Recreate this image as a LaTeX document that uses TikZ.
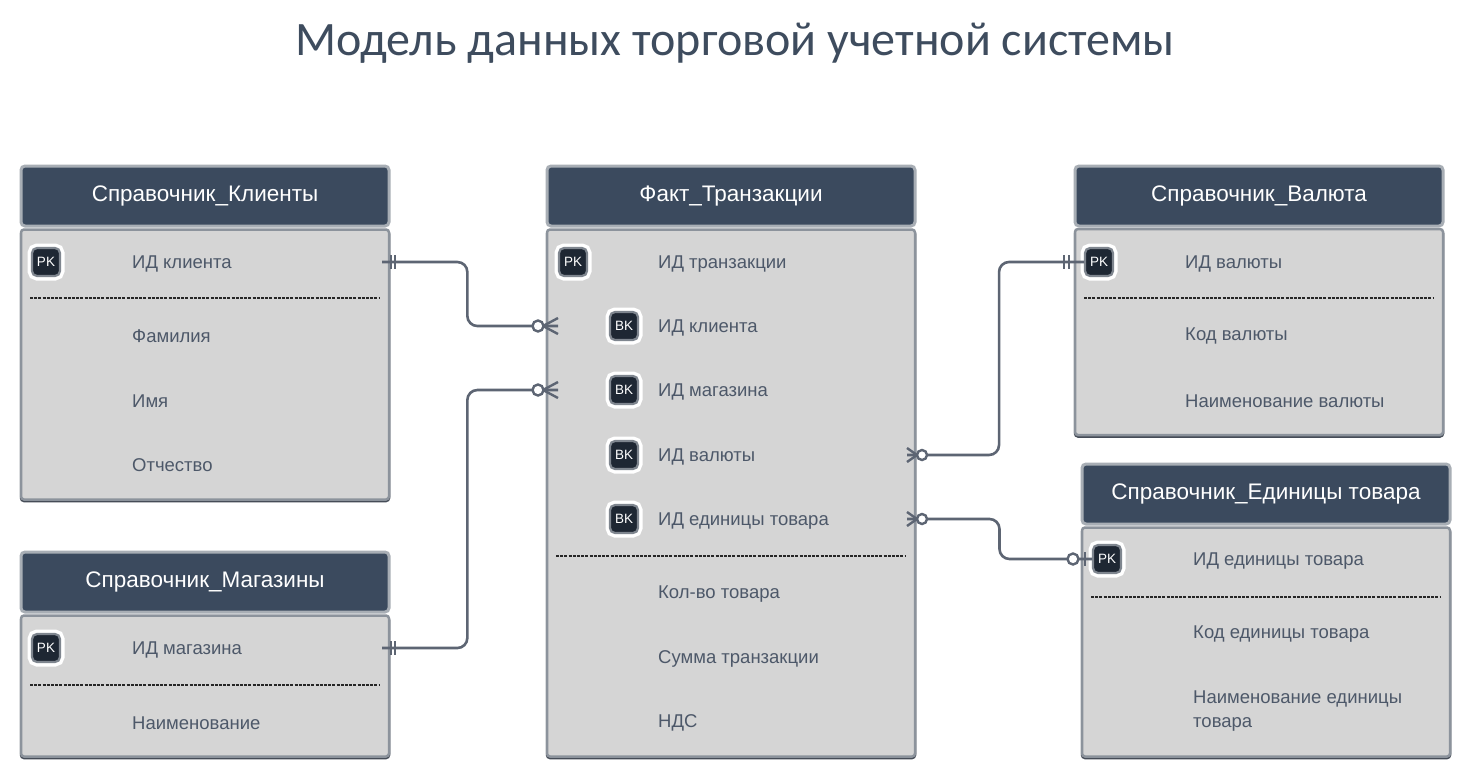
\documentclass[tikz,border=0pt]{standalone}
\usepackage{fontspec}
\setmainfont{Liberation Sans}
\newfontfamily\titlefont{Carlito}
\usetikzlibrary{calc}
\definecolor{hdrblue}{HTML}{3B4A5E}
\definecolor{hdredge}{HTML}{A8AEB5}
\definecolor{bodyfill}{HTML}{D5D5D5}
\definecolor{bodyedge}{HTML}{8C939C}
\definecolor{shadowc}{HTML}{454C57}
\definecolor{badgefill}{HTML}{1E2733}
\definecolor{badgeedge}{HTML}{7F868F}
\definecolor{txtgray}{HTML}{4D5869}
\definecolor{conncol}{HTML}{5D6573}
\definecolor{titlecol}{HTML}{3E4C5E}
\tikzset{
  hdr/.style={rounded corners=4pt, fill=hdrblue, draw=hdredge, line width=3pt,
    text=white, font=\fontsize{22.5}{24}\selectfont, inner sep=0pt},
  tbody/.style={rounded corners=3pt, fill=bodyfill, draw=bodyedge, line width=2.5pt,
    inner sep=0pt, preaction={draw=shadowc, line width=2.5pt, transform canvas={yshift=-1.5pt}}},
  badge/.style={fill=badgefill, draw=badgeedge, line width=2.2pt, rounded corners=5pt,
    minimum size=28pt, inner sep=0pt, text=white, font=\fontsize{13.5}{14}\selectfont,
    preaction={draw=white, line width=9pt}},
  fld/.style={anchor=west, text=txtgray, font=\fontsize{18.5}{24}\selectfont, inner sep=0pt,
    align=left},
  sep/.style={draw=black!85, line width=1.3pt, dash pattern=on 3pt off 1.2pt},
  conn/.style={draw=conncol, line width=2.6pt, rounded corners=10pt},
  tick/.style={draw=conncol, line width=2.4pt},
  ring/.style={draw=conncol, line width=2.4pt, fill=white},
}
\begin{document}
\begin{tikzpicture}[x=1pt,y=-1pt]
\useasboundingbox[fill=white] (0,0) rectangle (1472,764);
% title
\node[text=titlecol, font=\titlefont\fontsize{48}{50}\selectfont] (title) at (735,43) {Модель данных торговой учетной системы};

% ---------- Справочник_Клиенты
\node[tbody, minimum width=368pt, minimum height=270pt] (cb) at (205,364.5) {};
\node[hdr, minimum width=368pt, minimum height=60pt] (ch) at (205,196) {Справочник\_Клиенты};
\node[badge] (cpk) at (46,262) {PK};
\node[fld] (c1) at (132,264) {ИД клиента};
\draw[sep] (30,298) -- (380,298);
\node[fld] (c2) at (132,336) {Фамилия};
\node[fld] (c3) at (132,401) {Имя};
\node[fld] (c4) at (132,465) {Отчество};

% ---------- Справочник_Магазины
\node[tbody, minimum width=368pt, minimum height=141pt] (mb) at (205,686) {};
\node[hdr, minimum width=368pt, minimum height=60pt] (mh) at (205,582) {Справочник\_Магазины};
\node[badge] (mpk) at (46,648) {PK};
\node[fld] (m1) at (132,650) {ИД магазина};
\draw[sep] (30,685) -- (380,685);
\node[fld] (m2) at (132,723) {Наименование};

% ---------- Факт_Транзакции
\node[tbody, minimum width=368pt, minimum height=527pt] (tb) at (731,493) {};
\node[hdr, minimum width=368pt, minimum height=60pt] (th) at (731,196) {Факт\_Транзакции};
\node[badge] (tpk) at (573,262) {PK};
\node[fld] (t1) at (658,264) {ИД транзакции};
\node[badge] (tbk1) at (624,326) {BK};
\node[fld] (t2) at (658,328) {ИД клиента};
\node[badge] (tbk2) at (624,390) {BK};
\node[fld] (t3) at (658,392) {ИД магазина};
\node[badge] (tbk3) at (624,455) {BK};
\node[fld] (t4) at (658,457) {ИД валюты};
\node[badge] (tbk4) at (624,519) {BK};
\node[fld] (t5) at (658,521) {ИД единицы товара};
\draw[sep] (556,556) -- (906,556);
\node[fld] (t6) at (658,594) {Кол-во товара};
\node[fld] (t7) at (658,659) {Сумма транзакции};
\node[fld] (t8) at (658,723) {НДС};

% ---------- Справочник_Валюта
\node[tbody, minimum width=368pt, minimum height=206pt] (vb) at (1259,332) {};
\node[hdr, minimum width=368pt, minimum height=60pt] (vh) at (1259,196) {Справочник\_Валюта};
\node[badge] (vpk) at (1099,262) {PK};
\node[fld] (v1) at (1185,264) {ИД валюты};
\draw[sep] (1084,298) -- (1434,298);
\node[fld] (v2) at (1185,336) {Код валюты};
\node[fld] (v3) at (1185,401) {Наименование валюты};

% ---------- Справочник_Единицы товара
\node[tbody, minimum width=368pt, minimum height=229pt] (eb) at (1266,642) {};
\node[hdr, minimum width=368pt, minimum height=60pt] (eh) at (1266,494) {Справочник\_Единицы товара};
\node[badge] (epk) at (1107,559) {PK};
\node[fld] (e1) at (1193,561) {ИД единицы товара};
\draw[sep] (1091,597) -- (1441,597);
\node[fld] (e2) at (1193,634) {Код единицы товара};
\node[fld, anchor=north west] (e3) at (1193,691) {Наименование единицы\\товара};

% ---------- connectors
\coordinate (k1) at (382,262);
\coordinate (f1) at (558,326);
\coordinate (k2) at (382,648);
\coordinate (f2) at (558,390);
\coordinate (f3) at (907,455);
\coordinate (v3e) at (1084,262);
\coordinate (f4) at (907,519);
\coordinate (u4) at (1092,559);

\draw[conn] (k1) -| ($(k1)!0.485!(f1)$) |- (f1);
\draw[conn] (k2) -| ($(k2)!0.485!(f2)$) |- (f2);
\draw[conn] (f3) -| ($(f3)!0.52!(v3e)$) |- (v3e);
\draw[conn] (f4) -| ($(f4)!0.50!(u4)$) |- (u4);

% one-and-only-one marks
\foreach \c/\d in {k1/9,k1/13,k2/9,k2/13,v3e/-20,v3e/-15}
  \draw[tick] ($(\c)+(\d,-7)$) -- ($(\c)+(\d,7)$);
% zero-or-one mark at units
\draw[tick] ($(u4)+(-7,-7)$) -- ($(u4)+(-7,7)$);
\draw[ring] ($(u4)+(-19,0)$) circle (5.5);

% crow's feet (zero or many)
\foreach \c in {f1,f2}{
  \draw[tick] ($(\c)+(-15,0)$) -- ($(\c)+(0,-8)$);
  \draw[tick] ($(\c)+(-15,0)$) -- ($(\c)+(0,8)$);
  \draw[ring] ($(\c)+(-20,0)$) circle (5.5);
}
\foreach \c in {f3,f4}{
  \draw[tick] ($(\c)+(10,0)$) -- ($(\c)+(0,-7)$);
  \draw[tick] ($(\c)+(10,0)$) -- ($(\c)+(0,7)$);
  \draw[ring] ($(\c)+(15,0)$) circle (5);
}
\end{tikzpicture}
\end{document}
